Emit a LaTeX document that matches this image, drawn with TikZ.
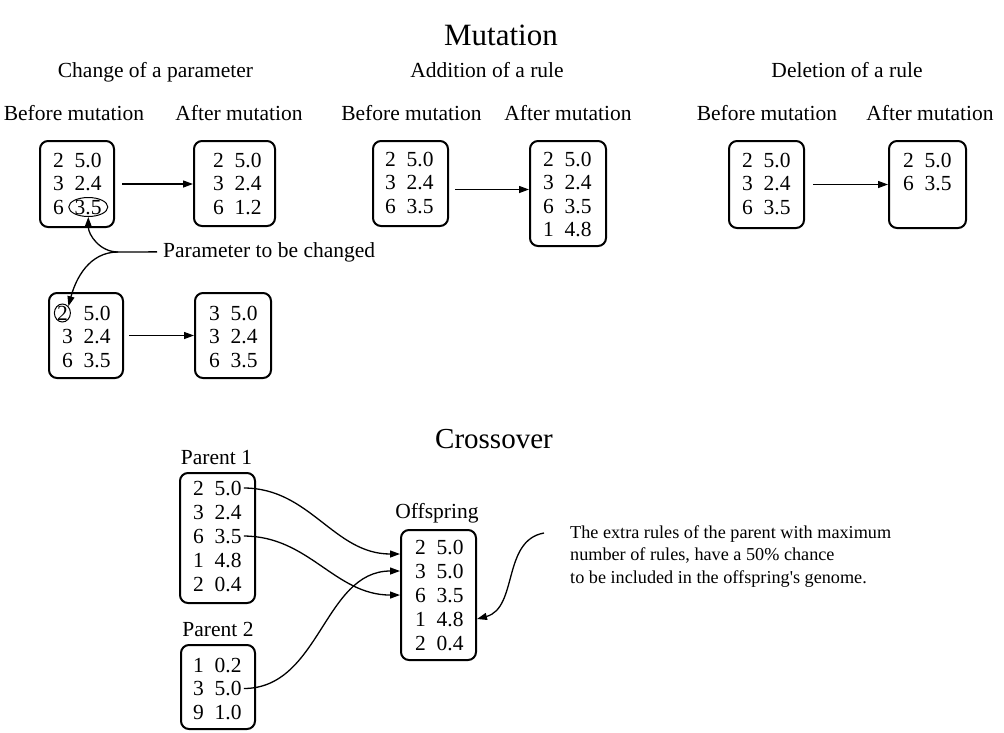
\documentclass[tikz,border=0pt]{standalone}
\usepackage{fontspec}
\setmainfont{Liberation Serif}
\usetikzlibrary{arrows.meta,calc,shapes.geometric}

\tikzset{
  genome/.style={draw, line width=2pt, rounded corners=8pt, inner sep=0pt},
  rule/.style={inner sep=0pt, anchor=base west},
  head/.style={inner sep=0pt, anchor=base},
  bigtitle/.style={head, font=\fontsize{29}{32}\selectfont},
  link/.style={line width=1.3pt, -{Triangle[length=10pt,width=7pt]}},
  pick/.style={draw, ellipse, line width=1pt, inner sep=0pt},
}

\begin{document}
\begin{tikzpicture}[x=1pt, y=-1pt, font=\fontsize{21.5}{23.5}\selectfont]
  \useasboundingbox (0,0) rectangle (1004,732);

  \node[bigtitle, font=\fontsize{31}{34}\selectfont] (mut) at (501,45) {Mutation};

  % change of a parameter
  \begin{scope}
    \node[head] at (155.5,77) {Change of a parameter};
    \node[head] at (74,120) {Before mutation};
    \node[head] at (239,120) {After mutation};

    \node[genome, minimum width=74pt, minimum height=86pt] (chg1b) at (77,184) {};
    \node[rule] (chg1b1) at (53,167) {2\enspace5.0};
    \node[rule] (chg1b2) at (53,190.5) {3\enspace2.4};
    \node[rule] (chg1b3) at (53,214) {6\enspace3.5};
    \node[pick, minimum width=39pt, minimum height=19pt] (pick1) at ($(chg1b3.base east)+(-13.5,-7)$) {};

    \node[genome, minimum width=81pt, minimum height=85pt] (chg1a) at (234.5,183.5) {};
    \node[rule] (chg1a1) at (213,167) {2\enspace5.0};
    \node[rule] (chg1a2) at (213,190.5) {3\enspace2.4};
    \node[rule] (chg1a3) at (213,214) {6\enspace1.2};
    \draw[link] ([xshift=7pt]chg1b.east) -- (chg1b.east -| chg1a.west);

    \node[genome, minimum width=74pt, minimum height=85pt] (chg2b) at (86,335.5) {};
    \node[rule] (chg2b1) at (62,320) {\kern-5pt2\enspace\kern5pt5.0};
    \node[rule] (chg2b2) at (62,343.5) {3\enspace2.4};
    \node[rule] (chg2b3) at (62,367) {6\enspace3.5};
    \node[pick, minimum width=16pt, minimum height=18pt] (pick2) at ($(chg2b1.base west)+(0.4,-7)$) {};

    \node[genome, minimum width=76pt, minimum height=85pt] (chg2a) at (233,335.5) {};
    \node[rule] (chg2a1) at (209,320) {3\enspace5.0};
    \node[rule] (chg2a2) at (209,343.5) {3\enspace2.4};
    \node[rule] (chg2a3) at (209,367) {6\enspace3.5};
    \draw[link] ([xshift=5pt]chg2b.east) -- (chg2b.east -| chg2a.west);

    \node[rule] (ptxt) at (163,257) {Parameter to be changed};
    \coordinate (fork) at (118,252);
    \draw[line width=1.3pt] ([xshift=-6pt]ptxt.west) -- (fork);
    \draw[link] (fork) to[out=180, in=-90] (pick1.south);
    \draw[link] (fork) to[out=180, in=75] (pick2.north east);
  \end{scope}

  % addition of a rule
  \begin{scope}
    \node[head] at (487,77) {Addition of a rule};
    \node[head] at (411.5,120) {Before mutation};
    \node[head] at (568,120) {After mutation};

    \node[genome, minimum width=75pt, minimum height=85pt] (addb) at (410.5,183.5) {};
    \node[rule] (addb1) at (385,166) {2\enspace5.0};
    \node[rule] (addb2) at (385,189.5) {3\enspace2.4};
    \node[rule] (addb3) at (385,213) {6\enspace3.5};

    \node[genome, minimum width=76pt, minimum height=105pt] (adda) at (568,193.5) {};
    \node[rule] (adda1) at (543,166) {2\enspace5.0};
    \node[rule] (adda2) at (543,189.5) {3\enspace2.4};
    \node[rule] (adda3) at (543,213) {6\enspace3.5};
    \node[rule] (adda4) at (543,236.5) {1\enspace4.8};
    \draw[link] ($(addb.east |- addb2.base)+(6,0)$) -- (addb2.base -| adda.west);
  \end{scope}

  % deletion of a rule
  \begin{scope}
    \node[head] at (847,77) {Deletion of a rule};
    \node[head] at (767,120) {Before mutation};
    \node[head] at (930,120) {After mutation};

    \node[genome, minimum width=75pt, minimum height=87pt] (delb) at (766.5,184.5) {};
    \node[rule] (delb1) at (742,167) {2\enspace5.0};
    \node[rule] (delb2) at (742,190.5) {3\enspace2.4};
    \node[rule] (delb3) at (742,214) {6\enspace3.5};

    \node[genome, minimum width=77pt, minimum height=87pt] (dela) at (927.5,184.5) {};
    \node[rule] (dela1) at (903,167) {2\enspace5.0};
    \node[rule] (dela2) at (903,190.5) {6\enspace3.5};
    \draw[link] ([xshift=8pt]delb.east) -- (delb.east -| dela.west);
  \end{scope}

  % crossover
  \begin{scope}
    \node[bigtitle] (cross) at (494,448) {Crossover};

    \node[head] at (216.5,464) {Parent 1};
    \node[genome, minimum width=75pt, minimum height=130pt] (p1) at (217.5,538) {};
    \node[rule] (p1r1) at (193,495) {2\enspace5.0};
    \node[rule] (p1r2) at (193,519) {3\enspace2.4};
    \node[rule] (p1r3) at (193,543) {6\enspace3.5};
    \node[rule] (p1r4) at (193,567) {1\enspace4.8};
    \node[rule] (p1r5) at (193,591) {2\enspace0.4};

    \node[head] at (218,636) {Parent 2};
    \node[genome, minimum width=74pt, minimum height=84pt] (p2) at (218,687) {};
    \node[rule] (p2r1) at (193,672) {1\enspace0.2};
    \node[rule] (p2r2) at (193,695.5) {3\enspace5.0};
    \node[rule] (p2r3) at (193,719) {9\enspace1.0};

    \node[head] at (437,518) {Offspring};
    \node[genome, minimum width=75pt, minimum height=130pt] (off) at (438.5,595) {};
    \node[rule] (off1) at (415,554) {2\enspace5.0};
    \node[rule] (off2) at (415,578) {3\enspace5.0};
    \node[rule] (off3) at (415,602) {6\enspace3.5};
    \node[rule] (off4) at (415,626) {1\enspace4.8};
    \node[rule] (off5) at (415,650) {2\enspace0.4};

    \draw[link] ([xshift=2pt]p1r1.east) to[out=0, in=180] (off.west |- off1.base);
    \draw[link] ([xshift=2pt]p1r3.east) to[out=0, in=180] (off.west |- off3);
    \draw[link] ([xshift=2pt]p2r2.east) to[out=0, in=180] (off.west |- off2);

    \node[inner sep=0pt, anchor=north west, align=left, font=\fontsize{18.2}{22.5}\selectfont] (note) at (570,525)
      {The extra rules of the parent with maximum\\number of rules, have a 50\% chance\\to be included in the offspring\textquotesingle s genome.};
    \draw[link] ([xshift=-26pt,yshift=-8pt]note.north west) to[out=190, in=15] (off.east |- off4);
  \end{scope}
\end{tikzpicture}
\end{document}
